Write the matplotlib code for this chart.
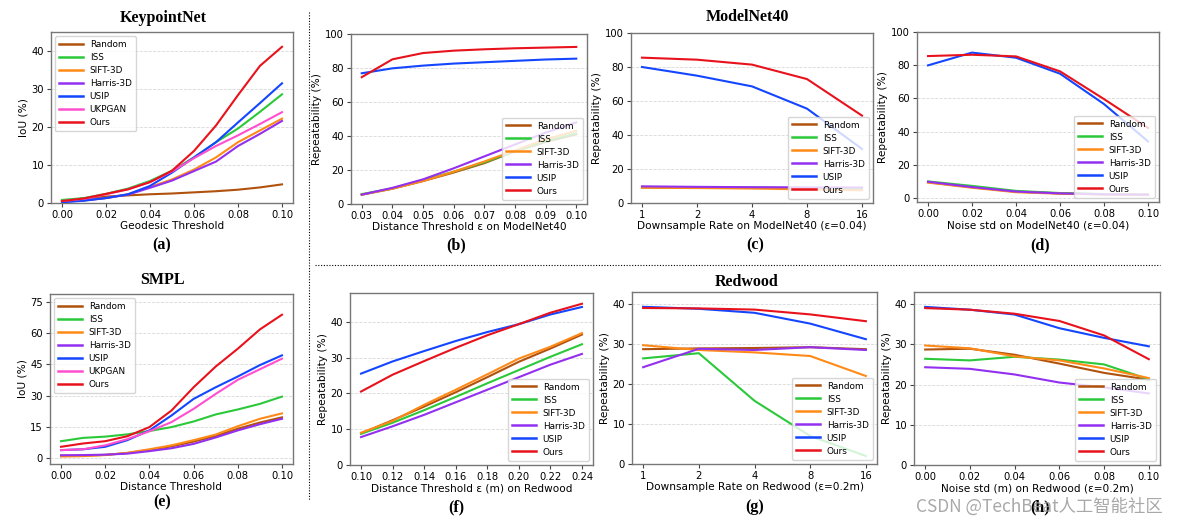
import matplotlib
matplotlib.use("Agg")
import matplotlib.pyplot as plt
from matplotlib.lines import Line2D
from matplotlib.ticker import FixedLocator, FixedFormatter

W, H = 1180, 527

METHODS6 = ["Random", "ISS", "SIFT-3D", "Harris-3D", "USIP", "Ours"]
METHODS7 = ["Random", "ISS", "SIFT-3D", "Harris-3D", "USIP", "UKPGAN", "Ours"]
COLORS = {
    "Random": "#b0520e",
    "ISS": "#2bc93a",
    "SIFT-3D": "#ff8a17",
    "Harris-3D": "#9330f0",
    "USIP": "#1446ff",
    "UKPGAN": "#ff4fcf",
    "Ours": "#e8121c",
}

# (a) KeypointNet, IoU vs geodesic threshold
a_x = [0.00, 0.01, 0.02, 0.03, 0.04, 0.05, 0.06, 0.07, 0.08, 0.09, 0.10]
a_y = {
    "Random":    [0.5, 1.2, 1.7, 2.0, 2.3, 2.5, 2.8, 3.1, 3.5, 4.1, 4.9],
    "ISS":       [0.8, 1.3, 2.4, 3.8, 5.8, 8.5, 12.0, 16.0, 19.6, 24.0, 28.6],
    "SIFT-3D":   [0.3, 0.7, 1.3, 2.3, 4.2, 6.2, 8.8, 12.0, 16.0, 19.1, 22.2],
    "Harris-3D": [0.3, 0.7, 1.3, 2.2, 4.0, 5.9, 8.4, 10.9, 15.0, 18.2, 21.6],
    "USIP":      [0.2, 0.6, 1.3, 2.3, 4.5, 8.0, 12.0, 16.0, 21.2, 26.3, 31.5],
    "UKPGAN":    [0.5, 1.1, 2.3, 3.6, 5.5, 8.3, 11.8, 15.0, 17.8, 20.8, 23.9],
    "Ours":      [0.5, 1.2, 2.4, 3.6, 5.5, 8.5, 13.7, 20.4, 28.4, 36.1, 41.1],
}

# (b) ModelNet40, repeatability vs distance threshold
b_x = [0.03, 0.04, 0.05, 0.06, 0.07, 0.08, 0.09, 0.10]
b_y = {
    "Random":    [5.5, 9.0, 13.5, 18.5, 24.0, 31.0, 36.5, 41.0],
    "ISS":       [5.8, 9.2, 14.0, 19.0, 24.5, 31.0, 37.0, 41.5],
    "SIFT-3D":   [5.5, 9.0, 13.5, 19.0, 25.0, 31.5, 38.0, 43.0],
    "Harris-3D": [5.5, 9.5, 14.5, 21.0, 28.0, 35.0, 42.0, 48.0],
    "USIP":      [76.9, 79.8, 81.4, 82.6, 83.4, 84.2, 85.0, 85.5],
    "Ours":      [74.6, 85.1, 88.8, 90.2, 91.0, 91.6, 92.0, 92.4],
}

# (c) ModelNet40, downsample rate
c_x = [1, 2, 4, 8, 16]
c_y = {
    "Random":    [9.2, 9.0, 8.9, 8.7, 8.5],
    "ISS":       [9.3, 9.1, 9.0, 8.8, 8.6],
    "SIFT-3D":   [9.0, 8.8, 8.5, 8.0, 7.5],
    "Harris-3D": [9.8, 9.5, 9.3, 9.2, 9.1],
    "USIP":      [80.0, 74.9, 68.6, 55.5, 31.8],
    "Ours":      [85.5, 84.3, 81.4, 72.9, 51.4],
}

# (d) ModelNet40, noise std
d_x = [0.00, 0.02, 0.04, 0.06, 0.08, 0.10]
d_y = {
    "Random":    [9.5, 6.5, 3.8, 2.8, 2.3, 2.0],
    "ISS":       [10.0, 7.3, 4.3, 3.0, 2.4, 2.0],
    "SIFT-3D":   [9.3, 6.2, 3.5, 2.6, 2.1, 1.8],
    "Harris-3D": [9.8, 6.6, 3.9, 2.8, 2.2, 2.0],
    "USIP":      [79.9, 87.6, 84.5, 74.9, 56.6, 34.1],
    "Ours":      [85.5, 86.3, 85.3, 76.3, 59.6, 42.2],
}

# (e) SMPL, IoU vs distance threshold
e_x = [0.00, 0.01, 0.02, 0.03, 0.04, 0.05, 0.06, 0.07, 0.08, 0.09, 0.10]
e_y = {
    "Random":    [1.0, 1.1, 1.4, 2.3, 3.8, 5.5, 7.8, 10.5, 14.0, 17.0, 19.5],
    "ISS":       [8.0, 9.6, 10.2, 11.3, 12.9, 14.8, 17.5, 20.9, 23.3, 26.0, 29.5],
    "SIFT-3D":   [0.6, 0.8, 1.3, 2.4, 4.1, 6.0, 8.5, 11.2, 15.2, 18.8, 21.4],
    "Harris-3D": [1.2, 1.3, 1.5, 2.0, 3.2, 4.6, 6.7, 9.8, 13.2, 16.2, 18.8],
    "USIP":      [3.7, 4.1, 5.3, 8.5, 13.2, 20.4, 28.4, 34.0, 39.2, 44.7, 49.4],
    "UKPGAN":    [3.7, 4.1, 6.0, 9.0, 12.8, 17.2, 23.6, 30.8, 37.6, 42.7, 47.8],
    "Ours":      [5.3, 6.9, 8.0, 10.4, 14.8, 22.8, 34.0, 44.0, 52.6, 61.9, 69.0],
}

# (f) Redwood, distance threshold
f_x = [0.10, 0.12, 0.14, 0.16, 0.18, 0.20, 0.22, 0.24]
f_y = {
    "Random":    [8.8, 12.5, 16.3, 20.3, 24.5, 28.8, 32.5, 36.4],
    "ISS":       [8.7, 11.8, 15.3, 19.0, 22.8, 26.5, 30.2, 33.7],
    "SIFT-3D":   [9.0, 12.3, 16.8, 21.0, 25.3, 29.7, 33.0, 36.8],
    "Harris-3D": [7.8, 10.8, 14.0, 17.5, 21.0, 24.5, 28.0, 31.0],
    "USIP":      [25.5, 28.9, 31.8, 34.6, 37.1, 39.3, 42.0, 44.1],
    "Ours":      [20.5, 25.2, 29.0, 32.7, 36.2, 39.3, 42.5, 45.0],
}

# (g) Redwood, downsample rate
g_x = [1, 2, 4, 8, 16]
g_y = {
    "Random":    [28.7, 28.9, 29.0, 29.2, 28.7],
    "ISS":       [26.4, 27.7, 15.8, 7.0, 2.0],
    "SIFT-3D":   [29.7, 28.5, 27.9, 27.0, 22.0],
    "Harris-3D": [24.2, 28.8, 28.5, 29.2, 28.5],
    "USIP":      [39.3, 38.8, 37.8, 35.1, 31.2],
    "Ours":      [39.0, 38.9, 38.6, 37.4, 35.7],
}

# (h) Redwood, noise std
h_x = [0.00, 0.02, 0.04, 0.06, 0.08, 0.10]
h_y = {
    "Random":    [28.7, 28.9, 27.4, 25.2, 22.9, 21.2],
    "ISS":       [26.4, 26.0, 26.9, 26.2, 25.0, 21.3],
    "SIFT-3D":   [29.7, 29.0, 27.0, 26.0, 24.0, 21.6],
    "Harris-3D": [24.3, 23.9, 22.5, 20.5, 19.3, 17.8],
    "USIP":      [39.3, 38.6, 37.4, 34.0, 31.6, 29.5],
    "Ours":      [39.0, 38.6, 37.6, 35.8, 32.2, 26.3],
}

TICK_FS = 7.2
LABEL_FS = 7.6
LEG_FS = 6.4
TITLE_FONT = dict(family="Liberation Serif", weight="bold", fontsize=11.5)


def rect(l, t, r, b):
    return [l / W, 1 - b / H, (r - l) / W, (b - t) / H]


def panel(fig, box, xs, ys, methods, xlabel, ylabel, ylim, yticks,
          xticks=None, xticklabels=None, logx=False, legend_loc="lower right"):
    ax = fig.add_axes(rect(*box))
    for m in methods:
        ax.plot(xs, ys[m], color=COLORS[m], lw=1.5, label=m, zorder=3)
    if logx:
        ax.set_xscale("log", base=2)
        ax.xaxis.set_minor_locator(FixedLocator([]))
    if xticks is not None:
        ax.xaxis.set_major_locator(FixedLocator(xticks))
        ax.xaxis.set_major_formatter(FixedFormatter(xticklabels))
    ax.set_ylim(*ylim)
    ax.set_yticks(yticks)
    ax.grid(axis="y", ls="--", lw=0.6, color="#d8d8d8", zorder=0)
    ax.tick_params(labelsize=TICK_FS, length=3, width=0.8, color="#444444",
                   pad=2)
    for sp in ax.spines.values():
        sp.set_color("#777777")
        sp.set_linewidth(1.0)
    ax.set_xlabel(xlabel, fontsize=LABEL_FS, labelpad=1)
    ax.set_ylabel(ylabel, fontsize=LABEL_FS, labelpad=2)
    leg = ax.legend(loc=legend_loc, fontsize=LEG_FS, handlelength=2.6,
                    labelspacing=0.45, borderpad=0.45, handletextpad=0.8)
    for ln in leg.get_lines():
        ln.set_linewidth(1.8)
    return ax


fig = plt.figure(figsize=(W / 100, H / 100), dpi=100)

panel(fig, (51, 32, 293, 203), a_x, a_y, METHODS7, "Geodesic Threshold",
      "IoU (%)", (0, 45), [0, 10, 20, 30, 40],
      xticks=[0, 0.02, 0.04, 0.06, 0.08, 0.10],
      xticklabels=["0.00", "0.02", "0.04", "0.06", "0.08", "0.10"],
      legend_loc="upper left")
panel(fig, (351, 34, 587, 204), b_x, b_y, METHODS6,
      "Distance Threshold \u03b5 on ModelNet40", "Repeatability (%)",
      (0, 100), [0, 20, 40, 60, 80, 100],
      xticks=b_x, xticklabels=["%.2f" % v for v in b_x])
panel(fig, (631, 33, 873, 203), c_x, c_y, METHODS6,
      "Downsample Rate on ModelNet40 (\u03b5=0.04)", "Repeatability (%)",
      (0, 100), [0, 20, 40, 60, 80, 100],
      xticks=c_x, xticklabels=[str(v) for v in c_x], logx=True)
panel(fig, (917, 32, 1159, 202), d_x, d_y, METHODS6,
      "Noise std on ModelNet40 (\u03b5=0.04)", "Repeatability (%)",
      (-2.4, 100), [0, 20, 40, 60, 80, 100],
      xticks=d_x, xticklabels=["%.2f" % v for v in d_x])
panel(fig, (50, 294, 293, 464), e_x, e_y, METHODS7, "Distance Threshold",
      "IoU (%)", (-3, 79), [0, 15, 30, 45, 60, 75],
      xticks=[0, 0.02, 0.04, 0.06, 0.08, 0.10],
      xticklabels=["0.00", "0.02", "0.04", "0.06", "0.08", "0.10"],
      legend_loc="upper left")
panel(fig, (350, 293, 593, 465), f_x, f_y, METHODS6,
      "Distance Threshold \u03b5 (m) on Redwood", "Repeatability (%)",
      (0, 48), [0, 10, 20, 30, 40],
      xticks=f_x, xticklabels=["%.2f" % v for v in f_x])
panel(fig, (632, 292, 877, 464), g_x, g_y, METHODS6,
      "Downsample Rate on Redwood (\u03b5=0.2m)", "Repeatability (%)",
      (0, 43), [0, 10, 20, 30, 40],
      xticks=g_x, xticklabels=[str(v) for v in g_x], logx=True)
panel(fig, (914, 292, 1160, 465), h_x, h_y, METHODS6,
      "Noise std (m) on Redwood (\u03b5=0.2m)", "Repeatability (%)",
      (0, 43), [0, 10, 20, 30, 40],
      xticks=h_x, xticklabels=["%.2f" % v for v in h_x])

# group titles
for txt, x, y in [("KeypointNet", 163, 18), ("ModelNet40", 747, 17),
                  ("SMPL", 163, 280), ("Redwood", 747, 282)]:
    fig.text(x / W, 1 - y / H, txt, ha="center", va="center", **TITLE_FONT)

# sub-figure labels
for txt, x, y in [("(a)", 162, 245), ("(b)", 456, 245), ("(c)", 755, 245),
                  ("(d)", 1040, 245), ("(e)", 162, 502), ("(f)", 456, 507),
                  ("(g)", 755, 507), ("(h)", 1040, 507)]:
    fig.text(x / W, 1 - y / H, txt, ha="center", va="center",
             family="Liberation Serif", weight="bold", fontsize=11.5)

# dotted separators
fig.add_artist(Line2D([309 / W, 309 / W], [1 - 12 / H, 1 - 500 / H],
                      color="black", lw=0.8, ls=(0, (1, 1.5))))
fig.add_artist(Line2D([315 / W, 1160 / W], [1 - 265 / H, 1 - 265 / H],
                      color="black", lw=0.8, ls=(0, (1, 1.5))))

# watermark (overlaps the (h) label, as in the source image)
fig.text(1163 / W, 1 - 507 / H, "CSDN @TechBeat人工智能社区", ha="right",
         va="center", fontsize=12.5, color="#9a9a9a", alpha=0.85,
         family=["Noto Sans CJK SC", "DejaVu Sans"])

fig.savefig("out.png", dpi=100, facecolor="white")
